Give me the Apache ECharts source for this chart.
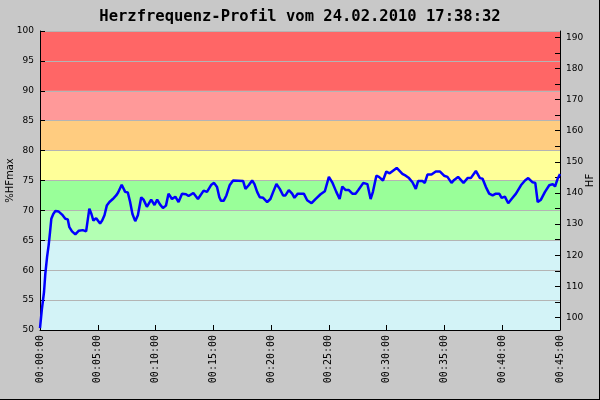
<!DOCTYPE html>
<html style="height: 100%">
    <head>
        <meta charset="utf-8">
        <script type="text/javascript" src="https://cdn.jsdelivr.net/npm/echarts@6/dist/echarts.min.js"></script>
    </head>
    <body style="height: 100%; margin: 0">
        <div id="container" style="width: 600px; height: 400px"></div>
        <script type="text/javascript">
        // Zeit in Minuten und Herzfrequenz in %HFmax
        var minutes = [0, 0.17, 0.35, 0.46, 0.61, 0.75, 0.87, 0.98, 1.15, 1.33, 1.62, 1.91, 2.19, 2.40, 2.54, 2.77, 3.06, 3.36, 3.70, 3.99,
            4.08, 4.27, 4.45, 4.62, 4.86, 5.00, 5.20, 5.38, 5.58, 5.78, 6.01, 6.30, 6.59, 6.76, 7.07, 7.37, 7.60, 7.80, 8.00, 8.24,
            8.47, 8.76, 8.96, 9.25, 9.62, 9.91, 10.14, 10.38, 10.64, 10.90, 11.12, 11.42, 11.71, 11.99, 12.29, 12.63, 12.86, 13.27, 13.67, 14.16,
            14.45, 14.83, 15.06, 15.32, 15.52, 15.67, 15.89, 16.13, 16.41, 16.71, 17.58, 17.78, 18.06, 18.36, 18.56, 18.79, 19.02, 19.31, 19.66, 19.94,
            20.18, 20.46, 20.75, 21.04, 21.24, 21.53, 21.82, 22.02, 22.31, 22.83, 23.12, 23.50, 23.84, 24.28, 24.65, 25.00, 25.29, 25.64, 25.93, 26.16,
            26.45, 26.73, 27.03, 27.31, 27.55, 27.69, 27.98, 28.33, 28.61, 28.81, 29.11, 29.33, 29.68, 29.97, 30.26, 30.35, 30.87, 31.36, 31.65, 31.93,
            32.23, 32.52, 32.72, 33.10, 33.30, 33.53, 33.88, 34.25, 34.62, 34.97, 35.26, 35.61, 35.84, 36.18, 36.65, 37.00, 37.28, 37.72, 38.07, 38.30,
            38.59, 38.87, 39.17, 39.45, 39.74, 39.95, 40.23, 40.52, 40.81, 41.19, 41.62, 41.97, 42.25, 42.63, 42.86, 43.07, 43.35, 43.70, 44.07, 44.37,
            44.57, 44.80, 45.00];
        var hfPercent = [50.3, 53.6, 56.4, 59.4, 62.2, 64.2, 66.4, 68.6, 69.4, 69.9, 69.8, 69.3, 68.6, 68.5, 67.2, 66.5, 66.0, 66.6, 66.7, 66.5,
            66.4, 70.3, 69.4, 68.3, 68.7, 68.5, 67.8, 68.3, 69.2, 70.8, 71.4, 71.9, 72.5, 73.0, 74.3, 73.1, 73.0, 71.4, 69.4, 68.2,
            69.2, 72.2, 71.8, 70.6, 71.8, 70.9, 71.8, 71.0, 70.4, 70.8, 72.8, 71.9, 72.3, 71.4, 72.8, 72.7, 72.4, 72.9, 71.9, 73.3,
            73.1, 74.3, 74.6, 73.9, 72.2, 71.6, 71.6, 72.5, 74.2, 75.0, 74.9, 73.6, 74.2, 75.0, 74.4, 73.1, 72.2, 72.1, 71.4, 71.9,
            73.1, 74.4, 73.6, 72.5, 72.5, 73.4, 72.8, 72.1, 72.8, 72.8, 71.7, 71.2, 71.9, 72.7, 73.2, 75.6, 74.7, 73.1, 71.9, 74.0,
            73.4, 73.4, 72.8, 72.8, 73.4, 73.1, 74.6, 74.4, 71.9, 73.1, 75.8, 75.6, 75.0, 76.5, 76.2, 76.1, 77.1, 76.1, 75.8, 75.4,
            74.7, 73.6, 74.9, 74.9, 74.6, 76.0, 76.0, 76.5, 76.5, 75.8, 75.6, 74.6, 75.1, 75.6, 74.6, 75.4, 75.4, 76.6, 75.4, 75.3,
            73.9, 72.8, 72.5, 72.8, 72.8, 72.1, 72.3, 71.2, 71.9, 72.8, 74.2, 75.0, 75.4, 74.7, 74.6, 71.4, 71.8, 73.1, 74.2, 74.4,
            74.0, 75.3, 76.1];

        // Zonen (%HFmax) und Farben
        var zoneLimits = [[50, 65], [65, 70], [70, 75], [75, 80], [80, 85], [85, 90], [90, 100]];
        var zoneColors = ['#d3f3f7', '#b3ffb3', '#99ff99', '#ffff99', '#ffcc80', '#ff9999', '#ff6666'];

        // Achsenbeschriftung rechts (HF)
        var hfLabels = [100, 110, 120, 130, 140, 150, 160, 170, 180, 190];
        var hfTicks = [100, 105, 110, 115, 120, 125, 130, 135, 140, 145, 150, 155, 160, 165, 170, 175, 180, 185, 190];

        var dom = document.getElementById("container");
        var chart = echarts.init(dom);

        var lineData = minutes.map(function (m, i) { return [m, hfPercent[i]]; });
        var areas = zoneLimits.map(function (z, i) {
            return [{ yAxis: z[0], itemStyle: { color: zoneColors[i] } }, { yAxis: z[1] }];
        });

        function pad(n) { return n < 10 ? '0' + n : '' + n; }

        var option = {
            backgroundColor: '#c8c8c8',
            animation: false,
            title: {
                text: 'Herzfrequenz-Profil vom 24.02.2010 17:38:32',
                left: 'center',
                top: 4,
                textStyle: { fontFamily: 'DejaVu Sans Mono', fontSize: 15.5, fontWeight: 'bold', color: '#000' }
            },
            grid: { left: 40, right: 40, top: 31, bottom: 70, containLabel: false, outerBoundsMode: 'none' },
            xAxis: {
                type: 'value',
                min: 0,
                max: 45,
                interval: 5,
                z: 3,
                axisLine: { show: true, lineStyle: { color: '#000', width: 1 } },
                axisTick: { show: true, inside: true, length: 5, lineStyle: { color: '#000' } },
                splitLine: { show: false },
                axisLabel: {
                    rotate: 90,
                    margin: 5,
                    fontFamily: 'DejaVu Sans Mono',
                    fontSize: 10,
                    color: '#000',
                    formatter: function (v) { return '00:' + pad(v) + ':00'; }
                }
            },
            yAxis: [
                {
                    type: 'value',
                    min: 50,
                    max: 100,
                    interval: 5,
                    z: 3,
                    name: '%HFmax',
                    nameLocation: 'middle',
                    nameGap: 25,
                    nameMoveOverlap: false,
                    nameTextStyle: { fontFamily: 'DejaVu Sans', fontSize: 10, color: '#000' },
                    axisLine: { show: true, lineStyle: { color: '#000', width: 1 } },
                    axisTick: { show: true, inside: true, length: 5, lineStyle: { color: '#000' } },
                    splitLine: { show: true, lineStyle: { color: '#b4b4b4', width: 1 } },
                    axisLabel: { margin: 6, fontFamily: 'DejaVu Sans', fontSize: 9, color: '#000' }
                },
                {
                    type: 'value',
                    position: 'right',
                    min: 96,
                    max: 192,
                    alignTicks: false,
                    z: 3,
                    name: 'HF',
                    nameLocation: 'middle',
                    nameGap: 25,
                    nameRotate: 90,
                    nameMoveOverlap: false,
                    nameTextStyle: { fontFamily: 'DejaVu Sans', fontSize: 10, color: '#000' },
                    axisLine: { show: true, lineStyle: { color: '#000', width: 1 } },
                    axisTick: { show: true, inside: true, length: 5, customValues: hfTicks, lineStyle: { color: '#000' } },
                    splitLine: { show: false },
                    axisLabel: { margin: 6, customValues: hfLabels, fontFamily: 'DejaVu Sans', fontSize: 9, color: '#000' }
                }
            ],
            graphic: [
                { type: 'line', shape: { x1: 0, y1: 399.5, x2: 600, y2: 399.5 }, style: { stroke: '#000', lineWidth: 1 } },
                { type: 'line', shape: { x1: 599.5, y1: 0, x2: 599.5, y2: 400 }, style: { stroke: '#000', lineWidth: 1 } }
            ],
            series: [
                {
                    name: 'zones',
                    type: 'line',
                    z: 1,
                    data: [],
                    silent: true,
                    markArea: { silent: true, data: areas }
                },
                {
                    name: 'HF',
                    type: 'line',
                    z: 5,
                    data: lineData,
                    showSymbol: false,
                    lineStyle: { color: '#0000ff', width: 2.5 },
                    itemStyle: { color: '#0000ff' }
                }
            ]
        };
        chart.setOption(option);
        </script>
    </body>
</html>
